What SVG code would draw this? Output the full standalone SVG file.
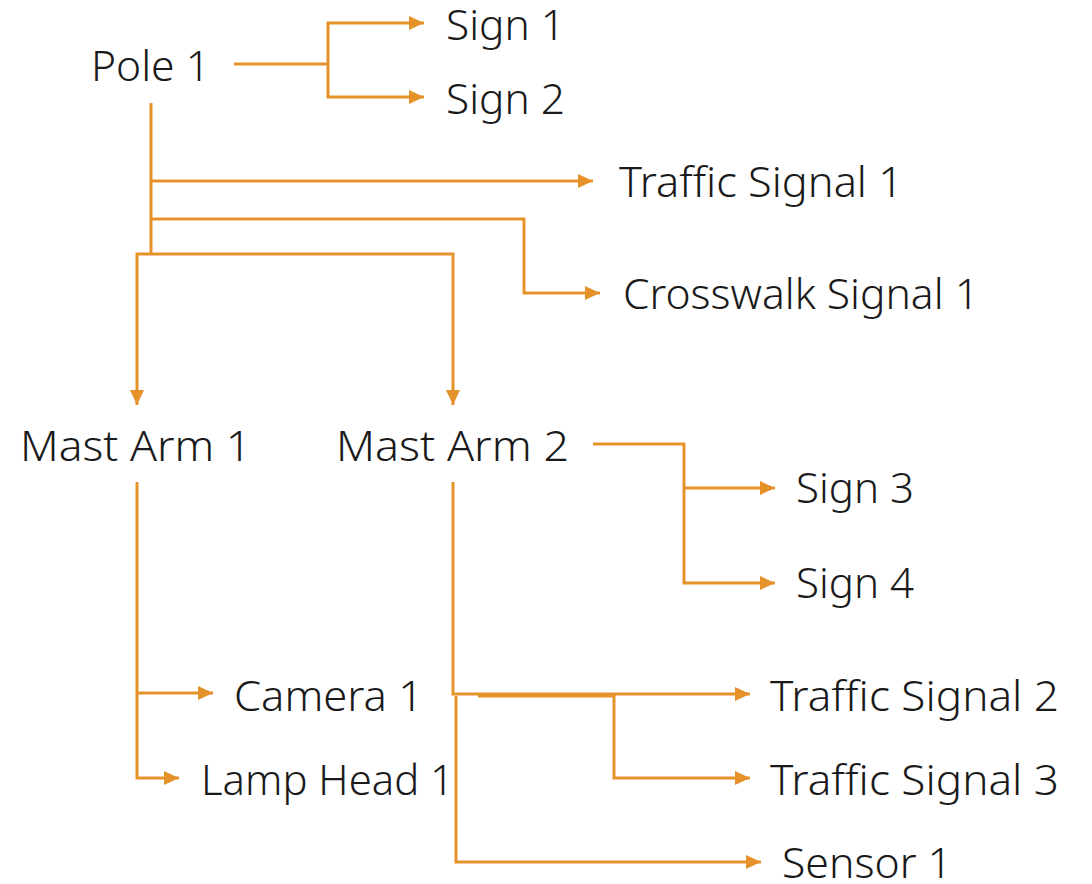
<svg xmlns="http://www.w3.org/2000/svg" width="1092" height="884" viewBox="0 0 1092 884">
<style>
.c{fill:none;stroke:#E6922A;stroke-width:3;stroke-linejoin:miter}
.a{marker-end:url(#ah)}
text{font-family:"Noto Sans","Open Sans","Liberation Sans",sans-serif;font-size:43px;font-weight:300;fill:#1a1a1a}
</style>
<defs>
<marker id="ah" markerUnits="userSpaceOnUse" markerWidth="16" markerHeight="14" refX="15" refY="7" orient="auto">
<path d="M0,0 L15,7 L0,14 z" fill="#E6922A"/>
</marker>
</defs>
<rect width="1092" height="884" fill="#ffffff"/>
<g id="connectors">
<path class="c" d="M234,64 H328"/>
<path class="c a" d="M328,64 V23 H424"/>
<path class="c a" d="M328,64 V97 H424"/>
<path class="c" d="M151,103 V254"/>
<path class="c a" d="M151,181 H593"/>
<path class="c a" d="M151,219 H524 V293 H600"/>
<path class="c a" d="M151,254 H137 V405"/>
<path class="c a" d="M151,254 H453 V405"/>
<path class="c" d="M593,444 H684 V488"/>
<path class="c a" d="M684,488 H775"/>
<path class="c a" d="M684,488 V583 H775"/>
<path class="c a" d="M137,482 V693 H213"/>
<path class="c a" d="M137,693 V778 H179"/>
<path class="c a" d="M453,482 V694 H750"/>
<path class="c a" d="M478,696 H614 V778 H750"/>
<path class="c a" d="M456,696 V862 H761"/>
</g>
<g id="pole1"><text x="91" y="81" textLength="119" lengthAdjust="spacingAndGlyphs">Pole 1</text></g>
<g id="sign1"><text x="446" y="40" textLength="119" lengthAdjust="spacingAndGlyphs">Sign 1</text></g>
<g id="sign2"><text x="446" y="114" textLength="119" lengthAdjust="spacingAndGlyphs">Sign 2</text></g>
<g id="trafficsignal1"><text x="619" y="197" textLength="284" lengthAdjust="spacingAndGlyphs">Traffic Signal 1</text></g>
<g id="crosswalksignal1"><text x="623" y="309" textLength="356" lengthAdjust="spacingAndGlyphs">Crosswalk Signal 1</text></g>
<g id="mastarm1"><text x="20" y="461" textLength="231" lengthAdjust="spacingAndGlyphs">Mast Arm 1</text></g>
<g id="mastarm2"><text x="336" y="461" textLength="233" lengthAdjust="spacingAndGlyphs">Mast Arm 2</text></g>
<g id="sign3"><text x="796" y="503" textLength="118" lengthAdjust="spacingAndGlyphs">Sign 3</text></g>
<g id="sign4"><text x="796" y="598" textLength="118" lengthAdjust="spacingAndGlyphs">Sign 4</text></g>
<g id="camera1"><text x="234" y="711" textLength="189" lengthAdjust="spacingAndGlyphs">Camera 1</text></g>
<g id="lamphead1"><text x="201" y="795" textLength="253" lengthAdjust="spacingAndGlyphs">Lamp Head 1</text></g>
<g id="trafficsignal2"><text x="770" y="711" textLength="289" lengthAdjust="spacingAndGlyphs">Traffic Signal 2</text></g>
<g id="trafficsignal3"><text x="770" y="795" textLength="289" lengthAdjust="spacingAndGlyphs">Traffic Signal 3</text></g>
<g id="sensor1"><text x="782" y="878" textLength="170" lengthAdjust="spacingAndGlyphs">Sensor 1</text></g>
</svg>
